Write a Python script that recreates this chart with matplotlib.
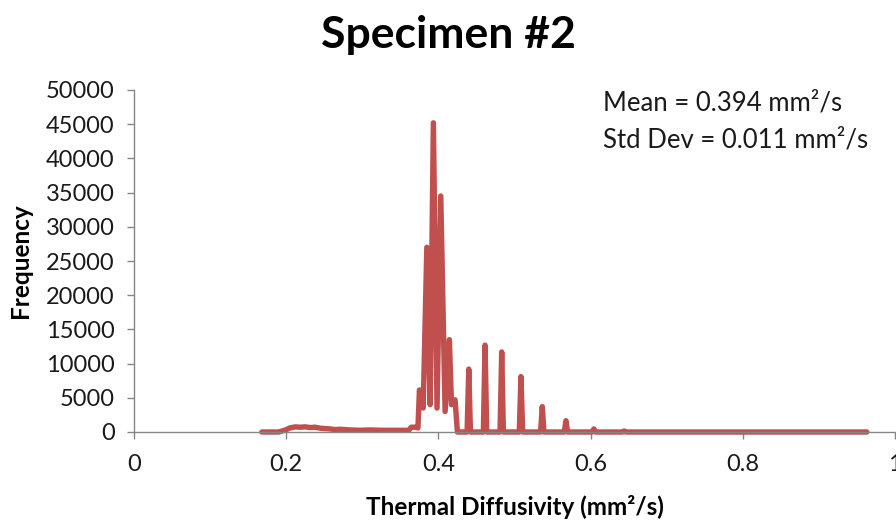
import matplotlib
matplotlib.use('Agg')
import matplotlib.pyplot as plt

plt.rcParams['font.family'] = ['Lato', 'DejaVu Sans']

# thermal diffusivity (mm^2/s) and frequency
diffusivity = [
    0.168, 0.190, 0.198, 0.205, 0.212, 0.2185, 0.225, 0.2316, 0.238,
    0.2448, 0.251, 0.2579, 0.264, 0.271, 0.284, 0.297, 0.310, 0.3235,
    0.336, 0.3497, 0.361, 0.3645, 0.370, 0.3731,
    0.3751, 0.3800,
    0.3848, 0.3891,
    0.3934, 0.3982,
    0.4031, 0.4088,
    0.4144, 0.4172, 0.4219, 0.4250,
    0.4377, 0.4399, 0.4421,
    0.4591, 0.4613, 0.4635,
    0.4810, 0.4832, 0.4854,
    0.5063, 0.5085, 0.5107,
    0.5343, 0.5365, 0.5387,
    0.5654, 0.5676, 0.5698,
    0.6021, 0.6043, 0.6065,
    0.6419, 0.6441, 0.6463,
    0.963,
]
frequency = [
    0, 0, 250, 600, 750, 700, 750, 650, 700,
    550, 500, 450, 350, 400, 300, 250, 300, 250,
    250, 250, 250, 700, 700, 600,
    6150, 3500,
    27000, 4000,
    45200, 3500,
    34500, 3000,
    13500, 4000, 4700, 0,
    0, 9200, 0,
    0, 12700, 0,
    0, 11700, 0,
    0, 8100, 0,
    0, 3700, 0,
    0, 1650, 0,
    0, 450, 0,
    0, 150, 0,
    0,
]

x_ticks = [0, 0.2, 0.4, 0.6, 0.8, 1]
x_ticklabels = ['0', '0.2', '0.4', '0.6', '0.8', '1']
y_ticks = list(range(0, 50001, 5000))

fig = plt.figure(figsize=(8.96, 5.2), dpi=100)
ax = fig.add_axes([134 / 896, 1 - 432 / 520, 761 / 896, 342 / 520])

ax.plot(diffusivity, frequency, color='#C0504D', lw=3.9,
        solid_joinstyle='round', solid_capstyle='round', clip_on=False)

ax.set_xlim(0, 1)
ax.set_ylim(0, 50000)
ax.set_xticks(x_ticks)
ax.set_xticklabels(x_ticklabels)
ax.set_yticks(y_ticks)

for side in ['top', 'right']:
    ax.spines[side].set_visible(False)
for side in ['left', 'bottom']:
    ax.spines[side].set_color('#868686')
    ax.spines[side].set_linewidth(1.0)
ax.tick_params(axis='both', direction='out', length=5, width=1.0,
               color='#868686', labelsize=17, labelcolor='#1a1a1a')
ax.tick_params(axis='y', pad=9)
ax.tick_params(axis='x', pad=11)

ax.set_xlabel('Thermal Diffusivity (mm²/s)', fontsize=17.5, fontweight='bold',
              labelpad=14)
ax.set_ylabel('Frequency', fontsize=17.5, fontweight='bold', labelpad=10)

fig.text(0.5, 1 - 35 / 520, 'Specimen #2', ha='center', va='center',
         fontsize=32, fontweight='bold')

fig.text(603 / 896, 1 - 103 / 520, 'Mean = 0.394 mm²/s', ha='left',
         va='center', fontsize=18.5, color='#1a1a1a')
fig.text(603 / 896, 1 - 140 / 520, 'Std Dev = 0.011 mm²/s', ha='left',
         va='center', fontsize=18.5, color='#1a1a1a')

fig.savefig('out.png', dpi=100)
